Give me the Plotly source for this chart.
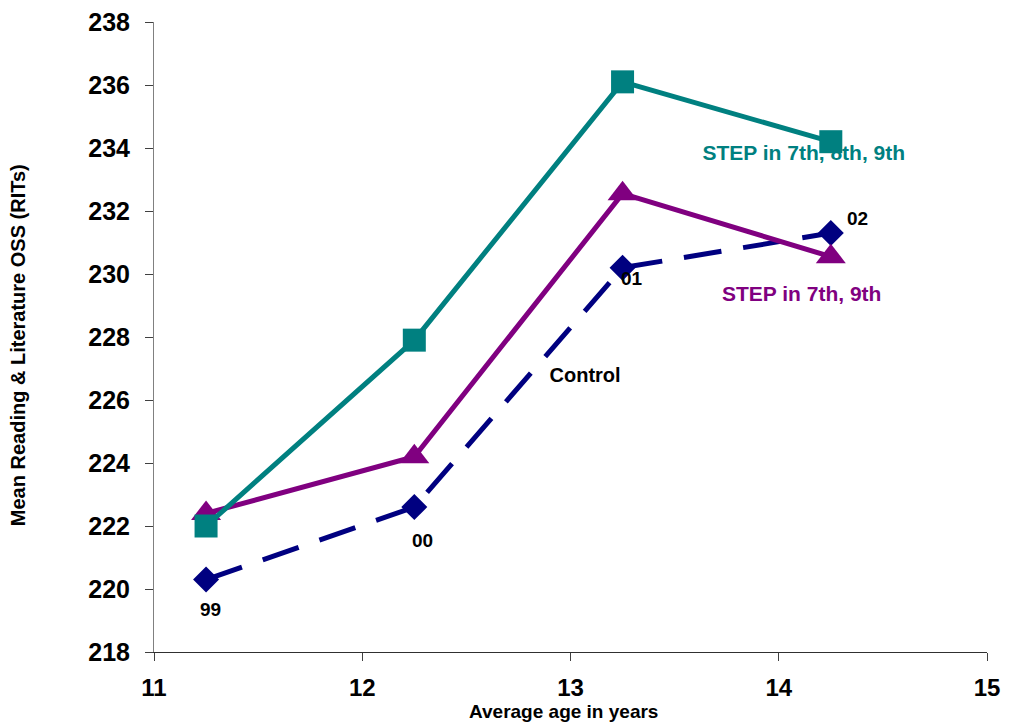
import plotly.graph_objects as go

# Average age (years) at each testing wave
ages = [11.25, 12.25, 13.25, 14.25]
wave_labels = ["99", "00", "01", "02"]

# Mean Reading & Literature OSS (RITs)
step_789 = [222.0, 227.9, 236.1, 234.2]
step_79 = [222.4, 224.2, 232.55, 230.55]
control = [220.3, 222.6, 230.2, 231.3]

TEAL = "#008080"
PURPLE = "#800080"
NAVY = "#000080"
FONT = "Liberation Sans, Arial, sans-serif"

fig = go.Figure()

# series labels sit beneath the markers, so draw them as text traces first
fig.add_trace(go.Scatter(
    x=[14.12], y=[233.78], mode="text", text=["<b>STEP in 7th, 8th, 9th</b>"],
    textfont=dict(family=FONT, size=21, color=TEAL), showlegend=False, hoverinfo="skip"))
fig.add_trace(go.Scatter(
    x=[14.11], y=[229.3], mode="text", text=["<b>STEP in 7th, 9th</b>"],
    textfont=dict(family=FONT, size=21, color=PURPLE), showlegend=False, hoverinfo="skip"))
fig.add_trace(go.Scatter(
    x=[13.07], y=[226.73], mode="text", text=["<b>Control</b>"],
    textfont=dict(family=FONT, size=20, color="black"), showlegend=False, hoverinfo="skip"))

fig.add_trace(go.Scatter(
    x=ages, y=control, mode="lines+markers", name="Control",
    line=dict(color=NAVY, width=5, dash="38px,22px"),
    marker=dict(symbol="diamond", size=20, color=NAVY)))
fig.add_trace(go.Scatter(
    x=ages, y=step_79, mode="lines+markers", name="STEP in 7th, 9th",
    line=dict(color=PURPLE, width=5),
    marker=dict(symbol="triangle-up", size=26, color=PURPLE)))
fig.add_trace(go.Scatter(
    x=ages, y=step_789, mode="lines+markers", name="STEP in 7th, 8th, 9th",
    line=dict(color=TEAL, width=5),
    marker=dict(symbol="square", size=23, color=TEAL)))

# wave year labels next to the control points
label_offsets = [(4, -30), (8, -33), (9, -11), (27, 15)]
for xv, yv, lab, (dx, dy) in zip(ages, control, wave_labels, label_offsets):
    fig.add_annotation(x=xv, y=yv, text=f"<b>{lab}</b>", showarrow=False,
                       xshift=dx, yshift=dy,
                       font=dict(family=FONT, size=19, color="black"))

# axis titles
fig.add_annotation(xref="paper", yref="paper", x=0.491, y=-0.0937,
                   xanchor="center", yanchor="middle", showarrow=False,
                   text="<b>Average age in years</b>",
                   font=dict(family=FONT, size=19, color="black"))
fig.add_annotation(xref="paper", yref="paper", x=-0.1633, y=0.487,
                   xanchor="center", yanchor="middle", showarrow=False, textangle=-90,
                   text="<b>Mean Reading & Literature OSS (RITs)</b>",
                   font=dict(family=FONT, size=20, color="black"))

fig.update_layout(
    width=1009, height=724,
    margin=dict(l=154, r=22, t=22, b=72, autoexpand=False),
    paper_bgcolor="white", plot_bgcolor="white",
    showlegend=False,
    font=dict(family=FONT, color="black"),
    xaxis=dict(
        range=[11, 15], tickvals=[11, 12, 13, 14, 15],
        ticktext=["<b>11</b>", "<b>12</b>", "<b>13</b>", "<b>14</b>", "<b>15</b>"],
        showgrid=False, zeroline=False, showline=True, linecolor="#303030", linewidth=1,
        ticks="outside", ticklen=8, tickcolor="#404040", ticklabelstandoff=6,
        tickfont=dict(family=FONT, size=24, color="black"), automargin=False,
    ),
    yaxis=dict(
        range=[218, 238], tickvals=list(range(218, 239, 2)),
        ticktext=[f"<b>{v}</b>" for v in range(218, 239, 2)],
        showgrid=False, zeroline=False, showline=True, linecolor="#808080", linewidth=1,
        ticks="outside", ticklen=8, tickcolor="#404040", ticklabelstandoff=10,
        tickfont=dict(family=FONT, size=25, color="black"), automargin=False,
    ),
)

fig.write_html("out.html")
